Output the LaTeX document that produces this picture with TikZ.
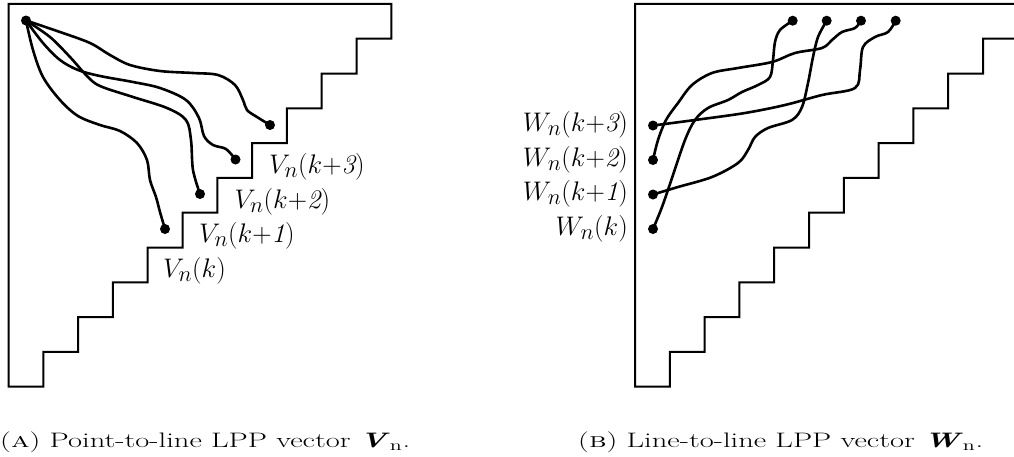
\documentclass[tikz,border=0pt]{standalone}
\begin{document}
\begin{tikzpicture}[x=1pt,y=-1pt,
  box/.style={line width=2pt,line join=miter},
  walk/.style={line width=2.6pt,line cap=round,line join=round},
  dot/.style={circle,fill=black,inner sep=0pt,minimum size=10pt},
  lab/.style={inner sep=0pt,font=\fontsize{24.88}{30}\selectfont},
  captext/.style={inner sep=0pt,font=\fontsize{20}{24}\selectfont}]
\clip (0,0) rectangle (1014,456);
% ---------- left panel ----------
\draw[box] (8.5,386.7) \foreach \i in {1,...,10}{ -- ++(34.8,0) -- ++(0,-34.8)}
  -- ++(34.8,0) -- ++(0,-34.8) -- (8.5,3.9) -- cycle;
\node[dot] (s) at (26,20.5) {};
\node[dot] (d1) at (165,229) {};
\node[dot] (d2) at (200,194) {};
\node[dot] (d3) at (235.5,159.5) {};
\node[dot] (d4) at (270,125) {};
\draw[walk] plot[smooth,tension=0.55] coordinates {(s.center) (33,50) (43,77) (60,100) (78,116) (100,125) (120,131) (137,143) (147,160) (150,180) (156,197) (160,212) (d1.center)};
\draw[walk] plot[smooth,tension=0.55] coordinates {(s.center) (50,37) (70,57) (87,76) (100,86) (133,97) (167,108) (186,120) (191,140) (193,170) (d2.center)};
\draw[walk] plot[smooth,tension=0.55] coordinates {(s.center) (43,43) (60,60) (78,70) (100,76) (133,82) (160,88) (186,100) (199,118) (204,136) (213,145) (226,149) (d3.center)};
\draw[walk] plot[smooth,tension=0.55] coordinates {(s.center) (60,32) (90,43) (110,55) (130,65) (160,71) (193,73) (218,75) (235,85) (243,100) (247,110) (257,117) (d4.center)};
\node[lab,anchor=base west] (l1) at (163,277.5) {\scalebox{1.08}{$V_n(k)$}};
\node[lab,anchor=base west] (l2) at (199,242.5) {\scalebox{1.08}{$V_n(k{+}\textit{1})$}};
\node[lab,anchor=base west] (l3) at (234.5,208) {\scalebox{1.08}{$V_n(k{+}\textit{2})$}};
\node[lab,anchor=base west] (l4) at (269,173.5) {\scalebox{1.08}{$V_n(k{+}\textit{3})$}};
% ---------- right panel ----------
\draw[box] (635,386.7) \foreach \i in {1,...,10}{ -- ++(34.8,0) -- ++(0,-34.8)}
  -- ++(34.8,0) -- ++(0,-34.8) -- (635,3.9) -- cycle;
\node[dot] (r0) at (653,229) {};
\node[dot] (r1) at (653,194.5) {};
\node[dot] (r2) at (653,160) {};
\node[dot] (r3) at (653,125.5) {};
\node[dot] (t1) at (792.7,20.7) {};
\node[dot] (t2) at (826.7,20.7) {};
\node[dot] (t3) at (861,20.7) {};
\node[dot] (t4) at (895.7,20.7) {};
\draw[walk] plot[smooth,tension=0.55] coordinates {(r0.center) (662,207) (672,178) (685,140) (695,120) (708,108) (728,100) (742,92) (758,85) (770,77) (773,60) (775,42) (780,30) (t1.center)};
\draw[walk] plot[smooth,tension=0.55] coordinates {(r1.center) (678,187) (712,177) (738,163) (748,150) (755,137) (768,128) (792,120) (802,107) (808,83) (813,57) (818,37) (t2.center)};
\draw[walk] plot[smooth,tension=0.55] coordinates {(r2.center) (658,140) (666,120) (678,103) (692,85) (712,73) (738,68) (772,62) (795,53) (822,48) (832,40) (842,32) (855,28) (t3.center)};
\draw[walk] plot[smooth,tension=0.55] coordinates {(r3.center) (695,120) (745,113) (785,105) (822,95) (855,88) (860,70) (863,47) (875,37) (888,32) (t4.center)};
\node[lab,anchor=base east] (w0) at (628,235) {\scalebox{1.08}{$W_n(k)$}};
\node[lab,anchor=base east] (w1) at (628,200.5) {\scalebox{1.08}{$W_n(k{+}\textit{1})$}};
\node[lab,anchor=base east] (w2) at (628,166) {\scalebox{1.08}{$W_n(k{+}\textit{2})$}};
\node[lab,anchor=base east] (w3) at (628,131.5) {\scalebox{1.08}{$W_n(k{+}\textit{3})$}};
% ---------- captions ----------
\node[captext,anchor=base west] (ca) at (0,447.5) {\resizebox{410pt}{15.7pt}{(\textsc{a}) Point-to-line LPP vector \textbf{\textit{V}}$_{\mathrm{n}}$.}};
\node[captext,anchor=base west] (cb) at (578,447.5) {\resizebox{405pt}{15.7pt}{(\textsc{b}) Line-to-line LPP vector \textbf{\textit{W}}$_{\mathrm{n}}$.}};
\end{tikzpicture}
\end{document}
